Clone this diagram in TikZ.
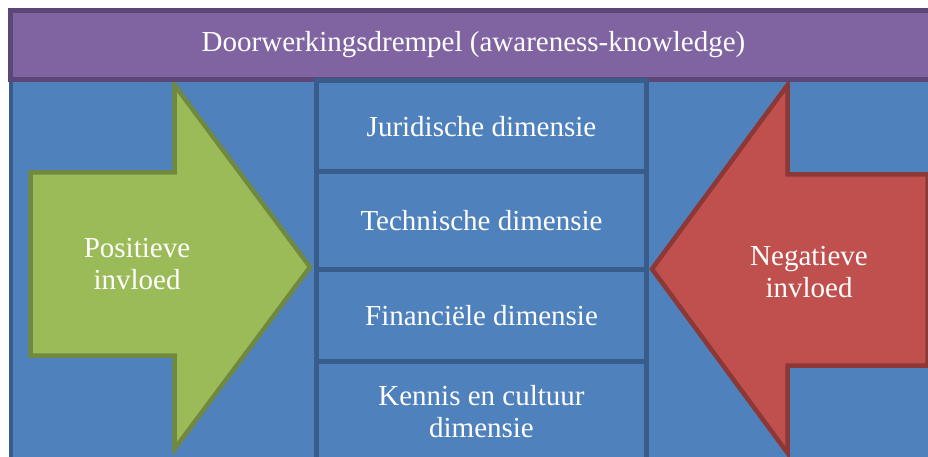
\documentclass[tikz,border=0pt]{standalone}
\usepackage{fontspec}
\setmainfont{Liberation Serif}
\definecolor{purfill}{HTML}{8064A2}
\definecolor{purline}{HTML}{5C4776}
\definecolor{bluefill}{HTML}{4F81BD}
\definecolor{blueline}{HTML}{385D8A}
\definecolor{grnfill}{HTML}{9BBB59}
\definecolor{grnline}{HTML}{71893F}
\definecolor{redfill}{HTML}{C0504D}
\definecolor{redline}{HTML}{8C3836}
\tikzset{
  shape line/.style={line width=4.5pt, line join=miter},
  bigtext/.style={text=white, font=\fontsize{29}{32}\selectfont, align=center, inner sep=0pt},
}
\begin{document}
\begin{tikzpicture}[x=1pt,y=-1pt]
\useasboundingbox (0,0) rectangle (928,457);
\clip (0,0) rectangle (928,457);
% blue background
\draw[shape line, fill=bluefill, draw=blueline] (10.8,79.5) rectangle (960,480);
% green arrow
\draw[shape line, fill=grnfill, draw=grnline]
  (30.5,172.5) -- (174.5,172.5) -- (174.5,85) -- (310,267) -- (174.5,449)
  -- (174.5,355.5) -- (30.5,355.5) -- cycle;
% red arrow
\draw[shape line, fill=redfill, draw=redline]
  (927.5,174.5) -- (787.5,174.5) -- (787.5,85) -- (652,269) -- (787.5,453)
  -- (787.5,365.5) -- (927.5,365.5) -- cycle;
% purple bar
\draw[shape line, fill=purfill, draw=purline] (10.5,10.5) rectangle (960,79.5);
% column boxes
\draw[shape line, fill=bluefill, draw=blueline] (316.5,80.5) rectangle (646.5,171.5);
\draw[shape line, fill=bluefill, draw=blueline] (316.5,171.5) rectangle (646.5,269.5);
\draw[shape line, fill=bluefill, draw=blueline] (316.5,269.5) rectangle (646.5,361.5);
\draw[shape line, fill=bluefill, draw=blueline] (316.5,361.5) rectangle (646.5,464);
% texts
\node[bigtext] (title) at (473.5,45) {Doorwerkingsdrempel (awareness-knowledge)};
\node[bigtext] (jur) at (481.5,127) {Juridische dimensie};
\node[bigtext] (tech) at (481.5,221) {Technische dimensie};
\node[bigtext] (fin) at (481.5,316) {Financiële dimensie};
\node[bigtext] (ken) at (481.5,412) {Kennis en cultuur\\dimensie};
\node[bigtext] (pos) at (137,264) {Positieve\\invloed};
\node[bigtext] (neg) at (809,272) {Negatieve\\invloed};
\end{tikzpicture}
\end{document}
